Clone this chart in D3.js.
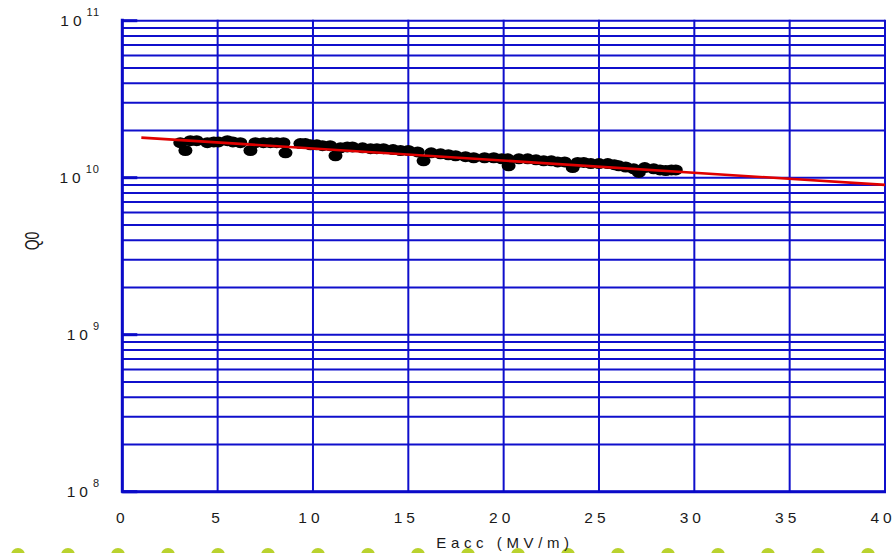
<!DOCTYPE html>
<html>
<head>
<meta charset="utf-8">
<script src="https://cdn.jsdelivr.net/npm/d3@7/dist/d3.min.js"></script>
<style>
  html, body { margin: 0; padding: 0; background: #ffffff; }
  svg { display: block; }
  text { font-family: "Liberation Sans", Arial, sans-serif; fill: #1a1a1a; }
</style>
</head>
<body>
<svg id="chart" width="896" height="553"></svg>
<script>
// Accelerating gradient (MV/m) and measured quality factor Q0
const eacc = [3.04, 3.31, 3.57, 3.9, 4.46, 4.8, 5.04, 5.51, 5.8, 6.19,
              6.72, 6.98, 7.4, 7.77, 8.1, 8.45, 8.56, 9.34, 9.6, 9.87,
              10.2, 10.5, 10.9, 11.18, 11.44, 11.8, 12.07, 12.6, 13.02, 13.35,
              13.70, 14.2, 14.59, 15.0, 15.49, 15.80, 16.2, 16.69, 17.1, 17.48,
              18.0, 18.43, 19.0, 19.48, 19.9, 20.21, 20.26, 20.8, 21.26, 21.7,
              22.10, 22.5, 22.83, 23.2, 23.62, 23.88, 24.2, 24.57, 25.0, 25.46,
              25.8, 26.04, 26.4, 26.82, 27.09, 27.4, 27.87, 28.2, 28.50, 28.8,
              29.03];
const q0 =   [1.67e10, 1.49e10, 1.72e10, 1.72e10, 1.67e10, 1.69e10, 1.69e10, 1.72e10, 1.69e10, 1.67e10,
              1.49e10, 1.67e10, 1.67e10, 1.67e10, 1.67e10, 1.67e10, 1.44e10, 1.65e10, 1.65e10, 1.62e10,
              1.62e10, 1.60e10, 1.60e10, 1.38e10, 1.55e10, 1.57e10, 1.57e10, 1.55e10, 1.53e10, 1.53e10,
              1.53e10, 1.51e10, 1.49e10, 1.49e10, 1.46e10, 1.28e10, 1.44e10, 1.42e10, 1.40e10, 1.38e10,
              1.36e10, 1.34e10, 1.34e10, 1.34e10, 1.32e10, 1.32e10, 1.19e10, 1.32e10, 1.32e10, 1.30e10,
              1.28e10, 1.28e10, 1.26e10, 1.26e10, 1.16e10, 1.25e10, 1.25e10, 1.23e10, 1.23e10, 1.23e10,
              1.21e10, 1.19e10, 1.17e10, 1.14e10, 1.08e10, 1.16e10, 1.14e10, 1.12e10, 1.11e10, 1.12e10,
              1.12e10];

// Exponential fit, given by its two end points
const fitE = [1, 40];
const fitQ = [1.8e10, 9.0e9];

// Axis ticks
const xTicks = [0, 5, 10, 15, 20, 25, 30, 35, 40];
const yDecades = [8, 9, 10, 11];

const svg = d3.select("#chart");
const blue = "#0f0fcc";

const x = d3.scaleLinear().domain([0, 40]).range([122.3, 885]);
const y = d3.scaleLog().domain([1e8, 1e11]).range([491.7, 20.7]);

// Decorative dotted band along the bottom edge
const bandDots = d3.range(18, 896, 50);
svg.append("g").selectAll("circle").data(bandDots).join("circle")
  .attr("cx", d => d).attr("cy", 555).attr("r", 7)
  .attr("fill", "#b9d22e");

// Horizontal grid: every 1..9 x 10^n step of the log axis
const hLines = [];
for (let n = 8; n <= 10; n++) for (let k = 1; k <= 9; k++) hLines.push(k * Math.pow(10, n));
hLines.push(1e11);

const grid = svg.append("g");
grid.selectAll("line.h").data(hLines).join("line")
  .attr("x1", x(0)).attr("x2", x(40))
  .attr("y1", d => y(d)).attr("y2", d => y(d))
  .attr("stroke", blue).attr("stroke-width", 2);

grid.selectAll("line.v").data(xTicks).join("line")
  .attr("x1", d => x(d)).attr("x2", d => x(d))
  .attr("y1", y(1e11) - 1).attr("y2", y(1e8))
  .attr("stroke", blue).attr("stroke-width", 2);

// Frame: left and bottom axes drawn heavier
svg.append("line").attr("x1", x(0)).attr("x2", x(0))
  .attr("y1", y(1e11) - 2).attr("y2", y(1e8) + 1)
  .attr("stroke", "#0a0ac8").attr("stroke-width", 3);
svg.append("line").attr("x1", x(0) - 1).attr("x2", x(40) + 1)
  .attr("y1", y(1e8)).attr("y2", y(1e8))
  .attr("stroke", "#0a0ac8").attr("stroke-width", 3);

// Short major ticks at each decade
svg.selectAll("line.tick").data(yDecades).join("line")
  .attr("x1", x(0)).attr("x2", x(0) + 15)
  .attr("y1", d => y(Math.pow(10, d))).attr("y2", d => y(Math.pow(10, d)))
  .attr("stroke", "#0a0ac8").attr("stroke-width", 3);

// X tick labels
svg.selectAll("text.xt").data(xTicks).join("text")
  .attr("x", d => x(d) - (String(d).length - 1) * 2)
  .attr("y", 523)
  .attr("text-anchor", "middle")
  .style("font-size", "15.5px")
  .style("letter-spacing", "4px")
  .text(d => d);

// Y tick labels as 10^n
const yl = svg.selectAll("text.yt").data(yDecades).join("text")
  .attr("x", 100)
  .attr("y", d => y(Math.pow(10, d)) + 5.5)
  .attr("text-anchor", "end")
  .style("font-size", "15.5px");
yl.append("tspan").style("letter-spacing", "4px").text("10");
yl.append("tspan")
  .attr("dx", 1).attr("dy", -10)
  .style("font-size", "11px")
  .style("letter-spacing", "1px")
  .text(d => d);

// Axis titles
svg.append("text")
  .attr("x", 505).attr("y", 548)
  .attr("text-anchor", "middle")
  .style("font-size", "15px")
  .style("letter-spacing", "4.6px")
  .text("Eacc (MV/m)");

svg.append("text")
  .attr("transform", "translate(39,241) rotate(-90) scale(1,1.5)")
  .attr("text-anchor", "middle")
  .style("font-size", "14px")
  .text("Q0");

// Measurements
const pts = eacc.map((e, i) => ({ e, q: q0[i] }));
svg.append("g").selectAll("ellipse").data(pts).join("ellipse")
  .attr("cx", d => x(d.e)).attr("cy", d => y(d.q))
  .attr("rx", 7).attr("ry", 5.5)
  .attr("fill", "#000");

// Fit line
svg.append("path")
  .datum(fitE.map((e, i) => [e, fitQ[i]]))
  .attr("d", d3.line().x(d => x(d[0])).y(d => y(d[1])))
  .attr("fill", "none")
  .attr("stroke", "#e00000")
  .attr("stroke-width", 2.6);
</script>
</body>
</html>
